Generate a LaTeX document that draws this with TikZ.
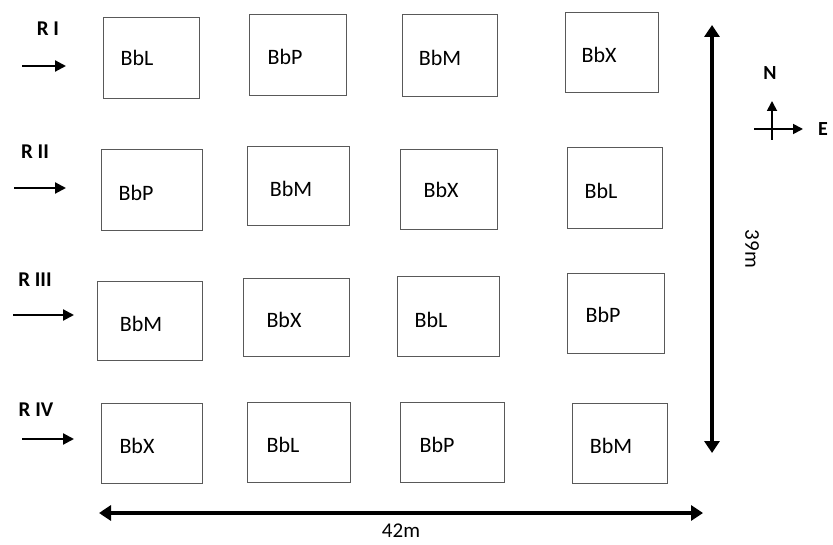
\documentclass[tikz,border=0pt]{standalone}
\usepackage{fontspec}
\setmainfont{Carlito}
\usetikzlibrary{arrows.meta}
\tikzset{
  plot/.style={draw=black!65, line width=0.9pt, inner sep=0pt},
  plotlbl/.style={inner sep=0pt, font=\fontsize{22}{24}\selectfont},
  rowlbl/.style={inner sep=0pt, font=\bfseries\fontsize{21}{24}\selectfont},
  rowarrow/.style={line width=2.2pt, -{Triangle[length=11pt,width=11pt]}},
  bigarrow/.style={line width=4.5pt, {Triangle[length=12pt,width=15pt]}-{Triangle[length=12pt,width=15pt]}},
  comparrow/.style={line width=1.8pt, -{Triangle[length=10pt,width=10pt]}},
  dimlbl/.style={inner sep=0pt, font=\fontsize{21}{24}\selectfont},
  complbl/.style={inner sep=0pt, font=\bfseries\fontsize{20}{22}\selectfont}
}
\begin{document}
\begin{tikzpicture}[x=1pt,y=-1pt]
\useasboundingbox (0,0) rectangle (833,545);
% plots: left/top/right/bottom/name/text/tx/ty
\foreach \l/\t/\r/\b/\n/\s/\tx/\ty in {
  103/17/199/98/a1/BbL/137/58,
  249/14/346/95/a2/BbP/285/57,
  402/14/497/96/a3/BbM/440/58,
  565/12/658/92/a4/BbX/599/55,
  101/149/202/230/b1/BbP/136/193,
  247/146/349/225/b2/BbM/291/189,
  400/149/497/229/b3/BbX/441/190,
  567/147/662/228/b4/BbL/601/191,
  97/281/202/360/c1/BbM/141/324,
  243/278/349/356/c2/BbX/284/320,
  397/276/499/356/c3/BbL/431/320,
  567/273/664/353/c4/BbP/603/315,
  101/403/202/483/d1/BbX/137/446,
  247/402/350/482/d2/BbL/283/445,
  400/402/504/482/d3/BbP/437/445,
  572/403/667/483/d4/BbM/611/446}{
  \pgfmathsetmacro\w{\r-\l}
  \pgfmathsetmacro\h{\b-\t}
  \node[plot, minimum width=\w pt, minimum height=\h pt] (\n) at ({(\l+\r)/2},{(\t+\b)/2}) {};
  \node[plotlbl] (\n t) at (\tx,\ty) {\s};
}
% row labels and arrows
\node[rowlbl] (r1) at (48,29) {R I};
\node[rowlbl] (r2) at (35,152) {R II};
\node[rowlbl] (r3) at (35,280) {R III};
\node[rowlbl] (r4) at (36,410) {R IV};
\coordinate (r1s) at (22,66);  \coordinate (r1e) at (66,66);
\coordinate (r2s) at (14,188); \coordinate (r2e) at (66,188);
\coordinate (r3s) at (13,315); \coordinate (r3e) at (74,315);
\coordinate (r4s) at (22,439); \coordinate (r4e) at (74,439);
\draw[rowarrow] (r1s) -- (r1e);
\draw[rowarrow] (r2s) -- (r2e);
\draw[rowarrow] (r3s) -- (r3e);
\draw[rowarrow] (r4s) -- (r4e);
% dimension arrows
\coordinate (vt) at (712,25); \coordinate (vb) at (712,453);
\draw[bigarrow] (vt) -- (vb);
\node[dimlbl, rotate=-90] (d39) at (752,249) {39m};
\coordinate (hl) at (99,513); \coordinate (hr) at (703,513);
\draw[bigarrow] (hl) -- (hr);
\node[dimlbl] (d42) at (401,531) {42m};
% compass
\coordinate (cs) at (772,140); \coordinate (cn) at (772,101);
\coordinate (cw) at (754,129); \coordinate (ce) at (803,129);
\draw[comparrow] (cs) -- (cn);
\draw[comparrow] (cw) -- (ce);
\node[complbl] (nn) at (770,73) {N};
\node[complbl] (ee) at (823,129) {E};
\end{tikzpicture}
\end{document}
